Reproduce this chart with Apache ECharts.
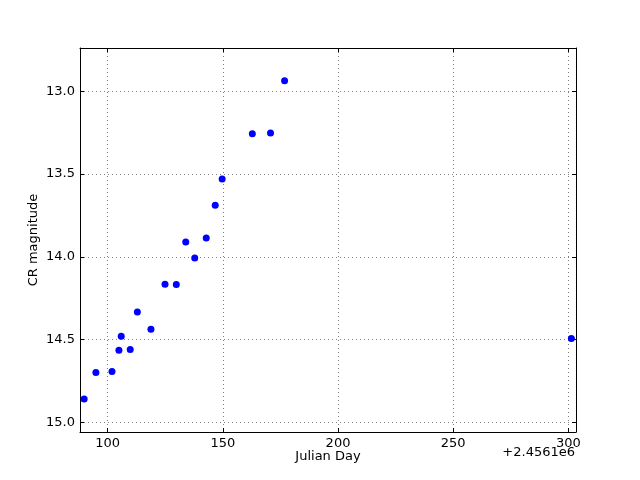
<!DOCTYPE html>
<html>
<head>
<meta charset="utf-8">
<script src="https://cdn.jsdelivr.net/npm/echarts@6/dist/echarts.min.js"></script>
<style>html,body{margin:0;padding:0;background:#fff}#c{width:640px;height:480px}</style>
</head>
<body>
<div id="c"></div>
<script>
// Julian Day minus 2456100
const julianDay = [89.8, 94.9, 101.9, 104.9, 105.9, 109.8, 112.9, 118.8, 124.9, 129.8, 133.9, 137.8, 142.8, 146.7, 149.7, 162.8, 170.7, 176.8, 301.3];
const crMagnitude = [14.859, 14.70, 14.694, 14.565, 14.480, 14.561, 14.334, 14.438, 14.166, 14.168, 13.910, 14.007, 13.886, 13.689, 13.530, 13.256, 13.252, 12.936, 14.494];
const xTicks = [100, 150, 200, 250, 300];
const yTicks = [13.0, 13.5, 14.0, 14.5, 15.0];
const xRange = [88, 303.3];
const yRange = [12.738, 15.059];

const font = 'DejaVu Sans';
const chart = echarts.init(document.getElementById('c'), null, {renderer: 'canvas'});
const gridLine = {show: true, lineStyle: {color: '#808080', type: [1, 3], width: 1}};
function xAx(pos, main) {
  return {
    type: 'value', position: pos, min: xRange[0], max: xRange[1],
    axisLine: {show: true, onZero: false, lineStyle: {color: '#000', width: 1}},
    axisTick: {show: true, inside: true, length: 4, customValues: xTicks, lineStyle: {color: '#000'}},
    axisLabel: {show: main, customValues: xTicks, color: '#000', fontFamily: font, fontSize: 13, margin: 5},
    splitLine: main ? gridLine : {show: false}
  };
}
function yAx(pos, main) {
  return {
    type: 'value', position: pos, inverse: true, min: yRange[0], max: yRange[1],
    axisLine: {show: true, onZero: false, lineStyle: {color: '#000', width: 1}},
    axisTick: {show: true, inside: true, length: 4, customValues: yTicks, lineStyle: {color: '#000'}},
    axisLabel: {show: main, customValues: yTicks, color: '#000', fontFamily: font, fontSize: 13, margin: 5,
      formatter: v => v.toFixed(1)},
    splitLine: main ? gridLine : {show: false}
  };
}
chart.setOption({
  animation: false,
  backgroundColor: '#fff',
  grid: {left: 80, right: 64, top: 48, bottom: 48, containLabel: false},
  xAxis: [xAx('bottom', true), xAx('top', false)],
  yAxis: [yAx('left', true), yAx('right', false)],
  graphic: [
    {type: 'text', x: 328, y: 450, style: {text: 'Julian Day', font: '13px "DejaVu Sans"', fill: '#000', align: 'center', verticalAlign: 'top'}},
    {type: 'text', x: 575, y: 446, style: {text: '+2.4561e6', font: '13px "DejaVu Sans"', fill: '#000', align: 'right', verticalAlign: 'top'}},
    {type: 'text', x: 34, y: 240, rotation: Math.PI / 2,
      style: {text: 'CR magnitude', font: '13px "DejaVu Sans"', fill: '#000', align: 'center', verticalAlign: 'middle'}}
  ],
  series: [{
    type: 'scatter',
    data: julianDay.map((d, i) => [d, crMagnitude[i]]),
    symbol: 'circle', symbolSize: 7,
    itemStyle: {color: '#0000ff', borderWidth: 0, opacity: 1},
    clip: false
  }]
});
</script>
</body>
</html>
